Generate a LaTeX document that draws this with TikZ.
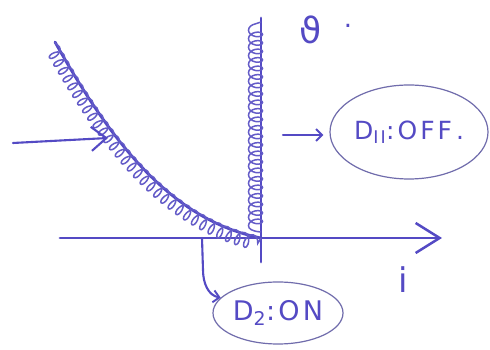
\documentclass[tikz,border=0pt]{standalone}
\usepackage{fontspec}
\setmainfont{DejaVu Sans}
\newfontfamily\widehand[LetterSpace=12]{DejaVu Sans}
\usetikzlibrary{arrows.meta,decorations.pathmorphing,shapes.geometric}
\definecolor{ink}{RGB}{84,74,196}
\definecolor{hatchink}{RGB}{100,92,200}
\definecolor{pale}{RGB}{112,108,172}
\begin{document}
\begin{tikzpicture}[x=1pt,y=1pt,
  axis/.style={draw=ink, line width=2.8pt, line cap=round, line join=round},
  hatchline/.style={draw=hatchink, line width=1.5pt, decorate},
  pointer/.style={draw=ink, line width=2.1pt, line cap=round},
  ring/.style={ellipse, draw=pale, line width=1.2pt, inner sep=0pt},
  handtext/.style={text=ink, inner sep=0pt},
  bigbarb/.style={-{Straight Barb[length=24pt,width=30pt,line width=2.5pt]}},
  midbarb/.style={-{Straight Barb[length=15pt,width=24pt,line width=2.1pt]}},
  smallbarb/.style={-{Straight Barb[length=6pt,width=12pt,line width=1.9pt]}}]
\useasboundingbox (0,0) rectangle (490,350);
\fill[white] (0,0) rectangle (490,350);

% axes
\coordinate (O) at (261,112);
\coordinate (xl) at (60,112);
\coordinate (xr) at (442,112);
\coordinate (yb) at (261,88);
\coordinate (yt) at (261,332);
\coordinate (cs) at (55,308);
\coordinate (vh0) at (261,118);
\coordinate (vh1) at (261,328);

\draw[axis, bigbarb] (xl) -- (xr);
\draw[axis] (yb) -- (yt);

% curve and hatching
\draw[axis] (cs) .. controls (110,210) and (170,130) .. (O);
\draw[hatchline, decoration={coil, amplitude=7pt, segment length=9pt, aspect=0.6, raise=-5.5pt}]
  (cs) .. controls (110,210) and (170,130) .. (O);
\draw[hatchline, decoration={coil, amplitude=7pt, segment length=8.5pt, aspect=0.6, raise=5.5pt}]
  (vh0) -- (vh1);

% labels
\node[handtext, font=\fontsize{36}{36}\selectfont] (theta) at (311,320) {ϑ};
\node[handtext, font=\fontsize{26}{26}\selectfont] (dot) at (348,324) {.};
\node[handtext, font=\fontsize{34}{34}\selectfont] (iax) at (403,70) {i};

\node[ring, minimum width=158pt, minimum height=94pt, handtext, draw=pale,
      font=\fontsize{25}{25}\widehand] (off) at (409,218)
  {D\textsubscript{II}:OFF\hspace{4pt}.};
\node[ring, minimum width=130pt, minimum height=62pt, handtext, draw=pale,
      font=\fontsize{27}{27}\widehand] (on) at (278,37)
  {D\textsubscript{2}:ON};

% pointers
\coordinate (la) at (13,207);
\coordinate (lb) at (108,212);
\draw[pointer, midbarb] (la) -- (lb);

\coordinate (ra) at (283,215);
\draw[pointer, smallbarb, shorten >=6pt] (ra) -- (off.west |- ra);

\coordinate (d2s) at (202,112);
\draw[pointer, smallbarb] (d2s) -- (203,80) to[out=-90, in=170] (on.165);
\end{tikzpicture}
\end{document}
